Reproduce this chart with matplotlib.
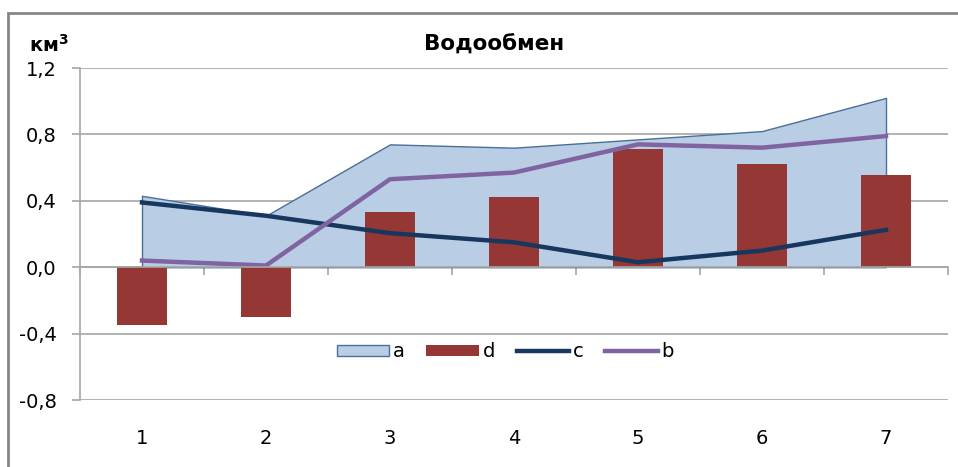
import matplotlib.pyplot as plt
import matplotlib.transforms as mtransforms
from matplotlib.patches import Rectangle

plt.rcParams['font.family'] = ['DejaVu Sans']

categories = ['1', '2', '3', '4', '5', '6', '7']
a = [0.43, 0.31, 0.74, 0.72, 0.77, 0.82, 1.02]
d = [-0.35, -0.30, 0.33, 0.42, 0.71, 0.62, 0.555]
c = [0.39, 0.31, 0.205, 0.15, 0.03, 0.10, 0.225]
b = [0.04, 0.01, 0.53, 0.57, 0.74, 0.72, 0.79]
yticks = [-0.8, -0.4, 0.0, 0.4, 0.8, 1.2]

x = list(range(len(categories)))

fig = plt.figure(figsize=(9.58, 4.67), dpi=100)
ax = fig.add_axes([80 / 958, 1 - 400 / 467, 868 / 958, 332 / 467])

# outer chart frame
fig.patches.append(Rectangle((8 / 958, -0.05), 1.0, 1 - 13 / 467 + 0.05,
                             transform=fig.transFigure, fill=False,
                             edgecolor='#868686', linewidth=2))

area = ax.fill_between(x, 0, a, facecolor='#B9CDE5', edgecolor='#4A6F9A',
                       linewidth=1, label='a', zorder=2)
bars = ax.bar(x, d, width=0.4, color='#953735', label='d', zorder=3)
line_c, = ax.plot(x, c, color='#17375E', linewidth=3.2, label='c', zorder=4)
line_b, = ax.plot(x, b, color='#8064A2', linewidth=3.2, label='b', zorder=5)

ax.set_xlim(-0.5, len(categories) - 0.5)
ax.set_ylim(-0.8, 1.2)
ax.set_yticks(yticks)
ax.set_yticklabels([('%.1f' % v).replace('.', ',') for v in yticks], fontsize=14)
ax.yaxis.grid(True, color='#A6A6A6', linewidth=1.2)
ax.set_axisbelow(True)

for s in ['top', 'right']:
    ax.spines[s].set_visible(False)
ax.spines['left'].set_color('#A6A6A6')
ax.spines['left'].set_linewidth(1.2)
ax.spines['bottom'].set_position(('data', 0))
ax.spines['bottom'].set_color('#A6A6A6')
ax.spines['bottom'].set_linewidth(1.2)
ax.spines['bottom'].set_zorder(6)

ax.set_xticks([i - 0.5 for i in range(len(categories) + 1)])
ax.set_xticklabels([])
ax.tick_params(axis='x', length=6, color='#A6A6A6', width=1.2)
ax.tick_params(axis='y', length=6, color='#A6A6A6', width=1.2, pad=11)

tr = mtransforms.blended_transform_factory(ax.transData, ax.transAxes)
for i, lab in enumerate(categories):
    ax.text(i, -0.115, lab, transform=tr, ha='center', va='center', fontsize=14)

fig.text(494 / 958, 1 - 45 / 467, 'Водообмен', fontsize=15.5, fontweight='bold',
         ha='center', va='center')
fig.text(29 / 958, 1 - 45 / 467, r'км$^\mathbf{3}$', fontsize=14, fontweight='bold',
         ha='left', va='center')

ax.legend([area, bars, line_c, line_b], ['a', 'd', 'c', 'b'],
          loc='center', bbox_to_anchor=(0.49, 0.145), ncol=4, frameon=False,
          fontsize=14, handlelength=2.7, handleheight=0.5, columnspacing=1.1,
          handletextpad=0.2)

fig.savefig('out.png', dpi=100)
